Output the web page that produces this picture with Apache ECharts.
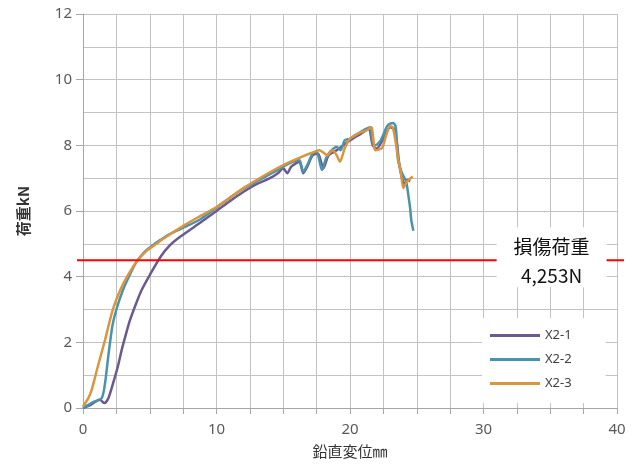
<!DOCTYPE html>
<html>
<head>
<meta charset="utf-8">
<script src="https://cdn.jsdelivr.net/npm/echarts@6/dist/echarts.min.js"></script>
<style>html,body{margin:0;padding:0;background:#fff}#c{width:636px;height:470px}</style>
</head>
<body>
<div id="c"></div>
<script>
// ---- data ----
const seriesNames = ['X2-1', 'X2-2', 'X2-3'];
const x21 = [0,0.5,1.27,1.6,1.9,2.25,2.6,2.9,3.15,3.5,3.9,4.4,5.0,5.8,6.5,7.3,8.8,10.0,11.0,12.0,13.0,14.0,14.6,15.0,15.3,15.6,16.2,16.5,16.8,17.2,17.6,18.0,18.4,19.0,19.5,20.0,20.8,21.4,21.7,22.0,22.5,23.0,23.3,23.5,23.7,23.9,24.1,24.3,24.5];
const y21 = [0,0.08,0.25,0.15,0.3,0.75,1.25,1.77,2.15,2.65,3.1,3.6,4.05,4.6,4.95,5.22,5.65,6.0,6.3,6.58,6.82,7.0,7.15,7.3,7.15,7.35,7.5,7.15,7.35,7.7,7.75,7.3,7.7,7.85,8.0,8.15,8.35,8.5,8.0,7.9,8.2,8.55,8.5,8.1,7.4,7.0,6.8,6.95,6.9];
const x22 = [0,0.75,1.4,1.65,1.9,2.2,2.5,3.0,3.5,4.0,4.6,5.2,5.8,6.5,7.3,8.8,10.0,11.0,12.1,13.0,14.0,14.8,15.3,15.7,16.2,16.5,16.8,17.2,17.5,17.9,18.2,18.5,19.0,19.3,19.6,20.0,20.7,21.2,21.5,21.7,21.9,22.3,22.8,23.2,23.4,23.5,23.6,23.9,24.2,24.4,24.5,24.6,24.75];
const y22 = [0,0.18,0.3,0.75,1.6,2.5,3.0,3.6,4.05,4.45,4.75,4.95,5.12,5.3,5.45,5.75,6.1,6.4,6.7,6.9,7.12,7.3,7.42,7.5,7.55,7.2,7.4,7.75,7.8,7.25,7.6,7.8,7.95,7.85,8.15,8.2,8.38,8.5,8.55,8.1,8.0,8.15,8.6,8.68,8.6,8.2,7.55,7.15,6.9,6.4,6.1,5.7,5.4];
const x23 = [0,0.4,0.65,1.1,1.65,2.2,2.8,3.3,4.0,4.8,5.5,6.1,7.6,8.8,10.0,12.1,14.0,15.0,16.2,17.0,17.7,18.3,18.7,19.0,19.25,19.6,20.0,20.7,21.2,21.6,21.9,22.4,22.7,23.0,23.2,23.4,23.6,23.8,24.0,24.2,24.4,24.7];
const y23 = [0.05,0.3,0.55,1.25,2.07,2.95,3.6,4.0,4.45,4.8,5.0,5.18,5.57,5.85,6.12,6.72,7.18,7.4,7.62,7.75,7.85,7.7,7.85,7.7,7.5,7.9,8.2,8.38,8.45,8.55,7.85,7.92,8.3,8.58,8.55,8.15,7.6,7.2,6.7,6.85,6.95,7.05];
const damageLoad = 4.5;
const annotationLines = ['損傷荷重', '4,253N'];
const xTicks = [0, 10, 20, 30, 40];
const yTicks = [0, 2, 4, 6, 8, 10, 12];
const colors = ['#6a5a8e', '#4a93aa', '#d9953f'];

const pairs = (xs, ys) => xs.map((v, i) => [v, ys[i]]);
const allData = [pairs(x21, y21), pairs(x22, y22), pairs(x23, y23)];

const chart = echarts.init(document.getElementById('c'), null, {renderer: 'canvas'});
const gridColor = '#c3c3c3';
const axisColor = '#a6a6a6';
const labelFont = {color: '#595959', fontSize: 15, fontFamily: 'Noto Sans'};

const series = seriesNames.map((n, i) => ({
  name: n, type: 'line', data: allData[i], symbol: 'none', smooth: 0.25,
  lineStyle: {color: colors[i], width: 2.5}, itemStyle: {color: colors[i]},
  z: 3 + i
}));

chart.setOption({
  animation: false,
  backgroundColor: '#fff',
  grid: {left: 83, right: 19, top: 14, bottom: 62},
  xAxis: {
    type: 'value', min: xTicks[0], max: xTicks[xTicks.length - 1], interval: 10,
    name: '鉛直変位㎜', nameLocation: 'middle', nameGap: 36,
    nameTextStyle: {color: '#333', fontSize: 15, fontFamily: 'Noto Sans CJK JP'},
    axisLine: {show: true, lineStyle: {color: axisColor, width: 1}},
    axisTick: {show: true, length: 6, lineStyle: {color: axisColor}},
    minorTick: {show: true, splitNumber: 4, length: 6, lineStyle: {color: axisColor}},
    splitLine: {show: true, lineStyle: {color: gridColor, width: 1}},
    minorSplitLine: {show: true, lineStyle: {color: gridColor, width: 1}},
    axisLabel: Object.assign({margin: 14}, labelFont)
  },
  yAxis: {
    type: 'value', min: yTicks[0], max: yTicks[yTicks.length - 1], interval: 2,
    name: '荷重kN', nameLocation: 'middle', nameGap: 52, nameRotate: 90,
    nameTextStyle: {color: '#333', fontSize: 15, fontWeight: 'bold', fontFamily: 'Noto Sans CJK JP'},
    axisLine: {show: true, lineStyle: {color: axisColor, width: 1}},
    axisTick: {show: true, length: 7, lineStyle: {color: axisColor}},
    minorTick: {show: false, splitNumber: 2},
    splitLine: {show: true, lineStyle: {color: gridColor, width: 1}},
    minorSplitLine: {show: true, lineStyle: {color: gridColor, width: 1}},
    axisLabel: Object.assign({margin: 11}, labelFont)
  },
  legend: {
    data: seriesNames, orient: 'vertical', left: 482, top: 318,
    backgroundColor: '#fff', padding: [10, 34, 12, 8],
    icon: 'rect', itemWidth: 50, itemHeight: 3, itemGap: 9,
    textStyle: {color: '#404040', fontSize: 13, fontFamily: 'Noto Sans', lineHeight: 15}
  },
  series: series
});

// damage-load line (slightly overhanging the plot like the original) and its label box
const pl = chart.convertToPixel({gridIndex: 0}, [xTicks[0], damageLoad]);
const pr = chart.convertToPixel({gridIndex: 0}, [xTicks[xTicks.length - 1], damageLoad]);
const pc = chart.convertToPixel({gridIndex: 0}, [35.1, damageLoad]);
chart.setOption({
  graphic: [
    {type: 'line', z: 50, silent: true,
     shape: {x1: pl[0] - 6, y1: pl[1], x2: pr[0] + 7, y2: pr[1]},
     style: {stroke: '#ff0000', lineWidth: 2}},
    {type: 'rect', z: 60, silent: true,
     shape: {x: pc[0] - 55, y: pc[1] - 33, width: 110, height: 60},
     style: {fill: '#fff'}},
    {type: 'text', z: 61, silent: true, x: pc[0], y: pc[1] - 28,
     style: {text: annotationLines.join('\n'), align: 'center', verticalAlign: 'top',
       fill: '#111', font: '19px "Noto Sans CJK JP"', lineHeight: 29}}
  ]
});
</script>
</body>
</html>
